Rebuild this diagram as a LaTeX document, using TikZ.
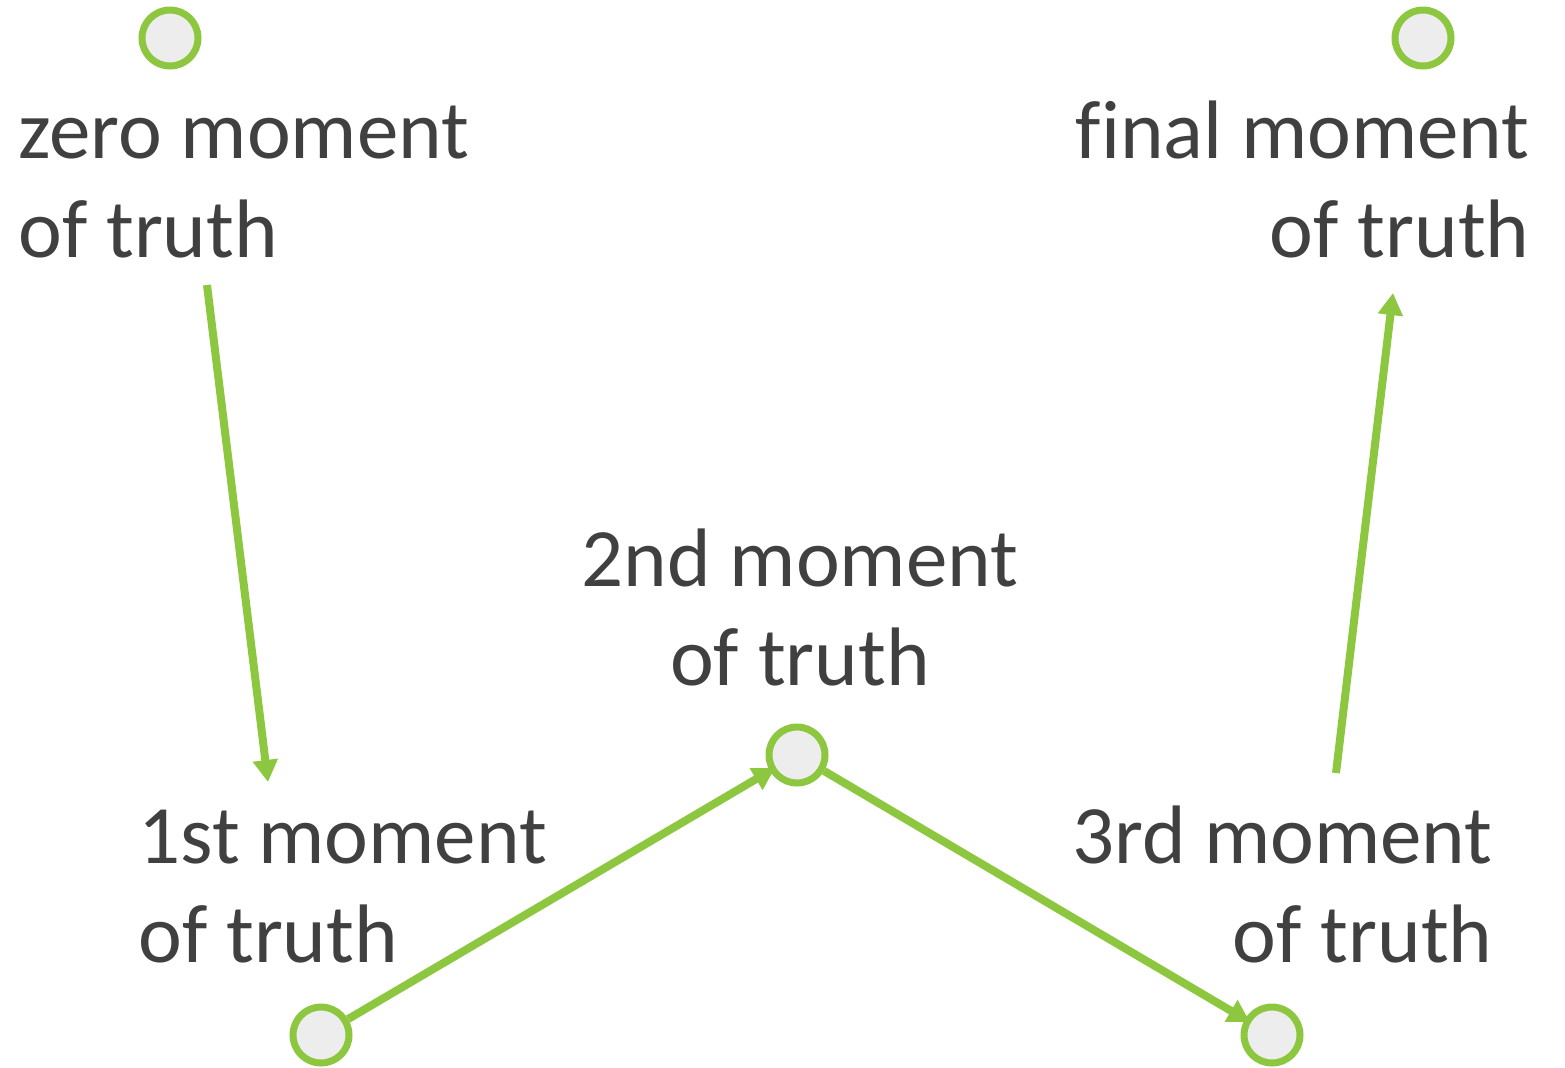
\documentclass[tikz,border=0pt]{standalone}
\usepackage{fontspec}
\setmainfont[Ligatures=NoCommon]{Carlito}
\usetikzlibrary{arrows.meta,positioning,calc}
\definecolor{motgreen}{HTML}{8DC63F}
\definecolor{motfill}{HTML}{EDEDED}
\definecolor{mottext}{HTML}{404040}
\tikzset{
  dot/.style={circle, draw=motgreen, fill=motfill, line width=3.5pt, minimum size=28pt, inner sep=0pt},
  label/.style={inner sep=0pt, text=mottext, font=\fontsize{41.5}{49.5}\selectfont},
  line/.style={-{Triangle[length=11pt, width=12pt]}, draw=motgreen, line width=4pt}
}

\begin{document}
\begin{tikzpicture}[x=0.5pt, y=-0.5pt]
  \useasboundingbox (0,0) rectangle (1565,1067);

  \node[dot] (zerodot) at (170,38) {};
  \node[dot] (finaldot) at (1423,38) {};
  \node[dot] (seconddot) at (797,755) {};
  \node[dot] (firstdot) at (321,1035) {};
  \node[dot] (thirddot) at (1272,1035) {};

  \node[label, align=left, anchor=south west] (zero) at (18,258) {zero moment\\of truth};
  \node[label, align=right, anchor=south east] (final) at (1530,258) {final moment\\of truth};
  \node[label, align=center, anchor=south] (second) at (800,686) {2nd moment\\of truth};
  \node[label, align=left, anchor=south west] (first) at (138,963) {1st moment\\of truth};
  \node[label, align=right, anchor=south east] (third) at (1493,963) {3rd moment\\of truth};

  \coordinate (zeroout) at (207,285);
  \coordinate (firstin) at (268,782);
  \coordinate (thirdout) at (1336,773);
  \coordinate (finalin) at (1393,293);

  \draw[line] (zeroout) -- (firstin);
  \draw[line, shorten >=-3pt] (firstdot) -- (seconddot);
  \draw[line, shorten >=-3pt] (seconddot) -- (thirddot);
  \draw[line] (thirdout) -- (finalin);
\end{tikzpicture}
\end{document}
